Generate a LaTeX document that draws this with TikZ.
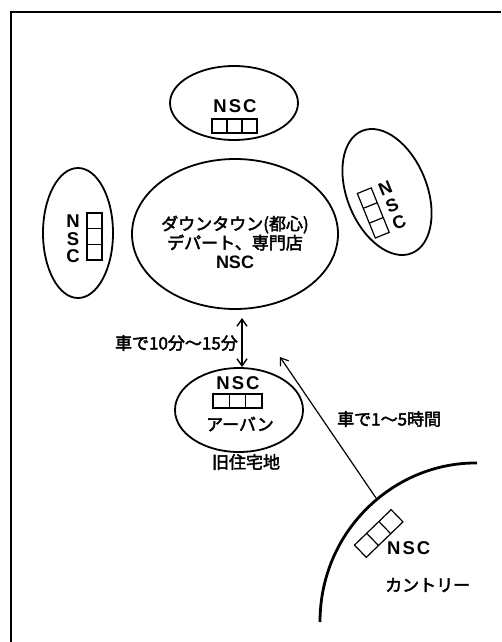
\documentclass[tikz,border=0pt]{standalone}
\usepackage{fontspec}
\setmainfont{Liberation Sans}
\newfontfamily\jp{Noto Sans CJK JP}[FakeBold=2.5]
\usetikzlibrary{arrows.meta,shapes.geometric}
\newcommand\spacednsc{N\hspace{2pt}S\hspace{2pt}C}
\begin{document}
\begin{tikzpicture}[x=1pt,y=-1pt,
  oval/.style={draw, ellipse, line width=1.8pt, inner sep=0pt},
  cell/.style={line width=1.2pt},
  jtext/.style={font=\jp\fontsize{17}{19}\selectfont, inner sep=0pt},
  nsc/.style={font=\bfseries\fontsize{18.5}{18}\selectfont, inner sep=0pt},
  nscv/.style={font=\bfseries\fontsize{18.5}{17.5}\selectfont, inner sep=0pt, align=center},
  arr/.style={line width=1.2pt, -{Straight Barb[length=7pt,width=10pt]}},
  darr/.style={line width=1.4pt, {Straight Barb[length=7pt,width=10pt]}-{Straight Barb[length=7pt,width=10pt]}}
]
\useasboundingbox (0,0) rectangle (501,642);
% frame
\draw[line width=2pt] (11,642) -- (11,12) -- (501,12);

% top NSC
\node[oval, minimum width=128pt, minimum height=74pt] (top) at (234,103) {};
\node[nsc] (topnsc) at (235,106) {\spacednsc};
\draw[cell] (212,119) rectangle (257,133);
\draw[cell] (227,119) -- (227,133) (242,119) -- (242,133);

% left NSC
\node[oval, minimum width=70pt, minimum height=130pt] (left) at (78,233) {};
\node[nscv] (lnsc) at (73,239) {N\\S\\C};
\draw[cell] (87,213) rectangle (102,260);
\draw[cell] (87,228.7) -- (102,228.7) (87,244.3) -- (102,244.3);

% right NSC (tilted)
\node[oval, minimum width=80pt, minimum height=132pt, rotate=22] (right) at (387,192) {};
\begin{scope}[shift={(383,209)}, rotate=22, transform shape]
  \draw[cell] (-18,-24) rectangle (-3,24);
  \draw[cell] (-18,-8) -- (-3,-8) (-18,8) -- (-3,8);
  \node[nscv, font=\bfseries\fontsize{18}{18.5}\selectfont] (rnsc) at (10,0) {N\\S\\C};
\end{scope}

% downtown
\node[oval, minimum width=206pt, minimum height=150pt] (down) at (235,234) {};
\node[jtext, align=center] (downtxt) at (235,242) {ダウンタウン(都心)\\デパート、専門店\\{\normalfont\bfseries\fontsize{18}{19}\selectfont NSC}};

% urban
\node[oval, minimum width=128pt, minimum height=84pt] (urban) at (239,410) {};
\node[nsc] (urbnsc) at (238,383) {\spacednsc};
\draw[cell] (213,394) rectangle (262,408);
\draw[cell] (229.3,394) -- (229.3,408) (245.7,394) -- (245.7,408);
\node[jtext] (urbtxt) at (240,424) {アーバン};
\node[jtext] (old) at (246,462) {旧住宅地};

% arrows and labels
\coordinate (a1) at (242,318);
\coordinate (a2) at (242,367);
\draw[darr] (a1) -- (a2);
\node[jtext, anchor=east] (l1) at (238,343) {車で10分〜15分};

\coordinate (b1) at (376,498);
\coordinate (b2) at (280,357);
\draw[arr] (b1) -- (b2);
\node[jtext, anchor=west] (l2) at (337,419) {車で1〜5時間};

% country
\draw[line width=2.8pt] (320,622) .. controls (320,530) and (395,462) .. (477,463);
\begin{scope}[shift={(378.7,533.5)}, rotate=44]
  \draw[cell] (-25.5,-8.5) rectangle (25.5,8.5);
  \draw[cell] (-8.5,-8.5) -- (-8.5,8.5) (8.5,-8.5) -- (8.5,8.5);
\end{scope}
\node[nsc, anchor=west] (cnsc) at (387,548) {\spacednsc};
\node[jtext, anchor=west] (ctxt) at (385,585) {カントリー};
\end{tikzpicture}
\end{document}
